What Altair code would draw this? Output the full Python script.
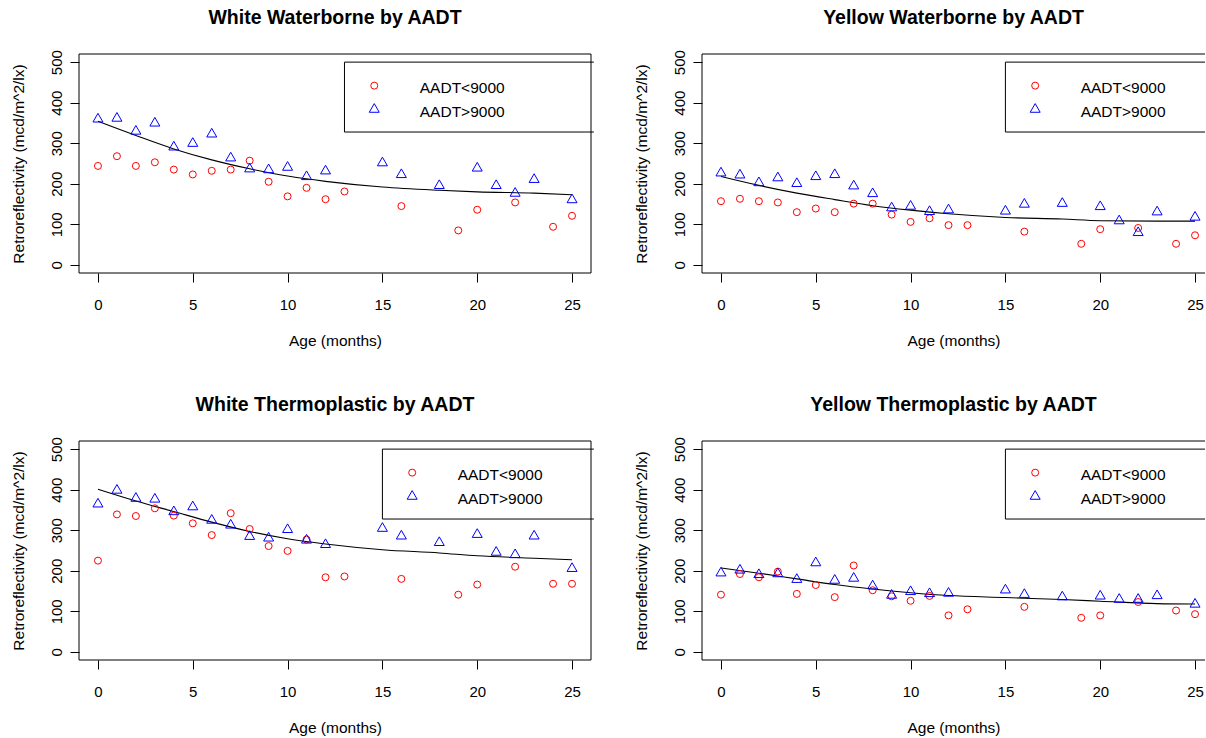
import altair as alt
import pandas as pd

# ---------------- data ----------------
AGES_LOW = [0, 1, 2, 3, 4, 5, 6, 7, 8, 9, 10, 11, 12, 13, 16, 19, 20, 22, 24, 25]
AGES_HIGH = [0, 1, 2, 3, 4, 5, 6, 7, 8, 9, 10, 11, 12, 15, 16, 18, 20, 21, 22, 23, 25]
FIT_AGES = [0, 2, 4, 6, 8, 10, 12, 15, 18, 20, 23, 25]

TITLES = ["White Waterborne by AADT", "Yellow Waterborne by AADT",
          "White Thermoplastic by AADT", "Yellow Thermoplastic by AADT"]

WW_LOW = [244, 268, 244, 253, 235, 223, 232, 235, 257, 205, 169, 190, 162, 181, 145, 85, 136, 154, 94, 121]
WW_HIGH = [363, 365, 333, 353, 294, 303, 326, 267, 240, 238, 244, 221, 235, 255, 226, 199, 242, 199, 180, 214, 164]
WW_FIT = [354, 319, 286, 259, 237, 219, 206, 192, 184, 180, 177, 173]

YW_LOW = [157, 163, 157, 154, 130, 139, 130, 151, 151, 124, 106, 115, 98, 98, 82, 52, 88, 91, 52, 73]
YW_HIGH = [230, 225, 206, 218, 204, 221, 226, 198, 179, 144, 148, 135, 139, 136, 153, 155, 147, 112, 83, 134, 121]
YW_FIT = [218, 196, 177, 161, 146, 135, 126, 117, 113, 109, 108, 108]

WT_LOW = [225, 339, 335, 354, 336, 317, 288, 342, 303, 261, 249, 277, 184, 186, 180, 141, 166, 210, 168, 168]
WT_HIGH = [368, 402, 382, 380, 349, 361, 328, 316, 288, 284, 305, 279, 268, 308, 289, 273, 293, 249, 243, 289, 209]
WT_FIT = [401, 372, 346, 320, 297, 279, 266, 252, 244, 237, 231, 227]

YT_LOW = [141, 192, 184, 198, 143, 165, 135, 213, 152, 137, 126, 138, 90, 105, 111, 84, 90, 123, 102, 93]
YT_HIGH = [198, 205, 194, 196, 182, 223, 180, 185, 166, 143, 152, 147, 148, 156, 145, 139, 141, 133, 133, 142, 121]
YT_FIT = [207, 194, 180, 166, 155, 146, 139, 134, 129, 125, 119, 118]

LEGEND_LABELS = ["AADT<9000", "AADT>9000"]
X_TICKS = [0, 5, 10, 15, 20, 25]
Y_TICKS = [0, 100, 200, 300, 400, 500]
X_TITLE = "Age (months)"
Y_TITLE = "Retroreflectivity (mcd/m^2/lx)"

# ---------------- styling ----------------
FONT = "Liberation Sans"
PLOT_H = 219
FULL_W = 512
CLIP_W = 503
PX_PER_MONTH = FULL_W / 27.0
Y_DOMAIN = [-20, 520]


def panel(title, low, high, fit, width, leg_left, leg_right, full_box):
    xmax = -1 + width / PX_PER_MONTH
    xs = alt.Scale(domain=[-1, xmax], nice=False, zero=False)
    ys = alt.Scale(domain=Y_DOMAIN, nice=False, zero=False)
    xax = alt.Axis(values=X_TICKS, title=X_TITLE, grid=False, domain=False,
                   tickSize=9, tickColor="black", tickWidth=1,
                   labelFont=FONT, labelFontSize=15, labelColor="black",
                   labelPadding=15, titleFont=FONT, titleFontSize=15.5,
                   titleFontWeight="normal", titleColor="black", titlePadding=21,
                   labelFlush=False, labelOverlap=False)
    yax = alt.Axis(values=Y_TICKS, title=Y_TITLE, grid=False, domain=False,
                   tickSize=9, tickColor="black", tickWidth=1,
                   labelFont=FONT, labelFontSize=15, labelColor="black",
                   labelAngle=270, labelAlign="center", labelBaseline="bottom",
                   labelPadding=6, titleFont=FONT, titleFontSize=15.5,
                   titleFontWeight="normal", titleColor="black", titlePadding=23,
                   labelFlush=False, labelOverlap=False)

    def X(f):
        return alt.X(f, type="quantitative", scale=xs, axis=xax)

    def Y(f):
        return alt.Y(f, type="quantitative", scale=ys, axis=yax)

    df_low = pd.DataFrame({"age": AGES_LOW, "val": low})
    df_high = pd.DataFrame({"age": AGES_HIGH, "val": high})
    df_fit = pd.DataFrame({"age": FIT_AGES, "val": fit})

    # frame of the plot region
    frame = [
        {"age": -1, "age2": xmax, "val": 520, "val2": 520},
        {"age": -1, "age2": xmax, "val": -20, "val2": -20},
        {"age": -1, "age2": -1, "val": -20, "val2": 520},
    ]
    if full_box:
        frame.append({"age": xmax, "age2": xmax, "val": -20, "val2": 520})
    df_frame = pd.DataFrame(frame)

    leg_bottom = 327.6
    df_legbox = pd.DataFrame([
        {"age": leg_left, "age2": leg_right, "val": 500, "val2": 500},
        {"age": leg_left, "age2": leg_right, "val": leg_bottom, "val2": leg_bottom},
        {"age": leg_left, "age2": leg_left, "val": leg_bottom, "val2": 500},
    ])
    df_legc = pd.DataFrame({"age": [leg_left + 1.57], "val": [442]})
    df_legt = pd.DataFrame({"age": [leg_left + 1.57], "val": [387]})
    df_legtext = pd.DataFrame({"age": [leg_left + 3.97, leg_left + 3.97],
                               "val": [437, 378], "label": LEGEND_LABELS})

    rule_style = dict(color="black", strokeWidth=1)

    line = alt.Chart(df_fit).mark_line(color="black", strokeWidth=1.1,
                                       interpolate="monotone").encode(x=X("age"), y=Y("val"))
    lo = alt.Chart(df_low).mark_point(shape="circle", filled=False, color="red",
                                      size=49, strokeWidth=1, opacity=1).encode(x=X("age"), y=Y("val"))
    hi = alt.Chart(df_high).mark_point(shape="triangle-up", filled=False, color="blue",
                                       size=100, strokeWidth=1, opacity=1).encode(x=X("age"), y=Y("val"))
    box = alt.Chart(df_frame).mark_rule(**rule_style).encode(
        x=X("age"), x2="age2:Q", y=Y("val"), y2="val2:Q")
    legbox = alt.Chart(df_legbox).mark_rule(**rule_style).encode(
        x=X("age"), x2="age2:Q", y=Y("val"), y2="val2:Q")
    legc = alt.Chart(df_legc).mark_point(shape="circle", filled=False, color="red",
                                         size=49, strokeWidth=1, opacity=1).encode(x=X("age"), y=Y("val"))
    legt = alt.Chart(df_legt).mark_point(shape="triangle-up", filled=False, color="blue",
                                         size=100, strokeWidth=1, opacity=1).encode(x=X("age"), y=Y("val"))
    legtext = alt.Chart(df_legtext).mark_text(align="left", baseline="middle", font=FONT,
                                              fontSize=15.5, color="black").encode(
        x=X("age"), y=Y("val"), text="label:N")

    return alt.layer(box, line, lo, hi, legbox, legc, legt, legtext).properties(
        width=width, height=PLOT_H,
        title=alt.TitleParams(text=title, font=FONT, fontSize=19.5, fontWeight="bold",
                              color="black", anchor="middle", baseline="alphabetic",
                              offset=6),
    )


p1 = panel(TITLES[0], WW_LOW, WW_HIGH, WW_FIT, FULL_W, 13.0, 26.15, True)
p2 = panel(TITLES[1], YW_LOW, YW_HIGH, YW_FIT, CLIP_W, 15.0, -1 + CLIP_W / PX_PER_MONTH, False)
p3 = panel(TITLES[2], WT_LOW, WT_HIGH, WT_FIT, FULL_W, 15.0, 26.15, True)
p4 = panel(TITLES[3], YT_LOW, YT_HIGH, YT_FIT, CLIP_W, 15.0, -1 + CLIP_W / PX_PER_MONTH, False)

chart = alt.concat(p1, p2, p3, p4, columns=2,
                   spacing={"row": 168, "column": 111}, bounds="flush").properties(
    padding={"left": 11, "top": 8, "right": 0, "bottom": 0},
    background="white",
).configure_view(stroke=None)

chart.save("out.html", embed_options={"renderer": "svg", "actions": False})
